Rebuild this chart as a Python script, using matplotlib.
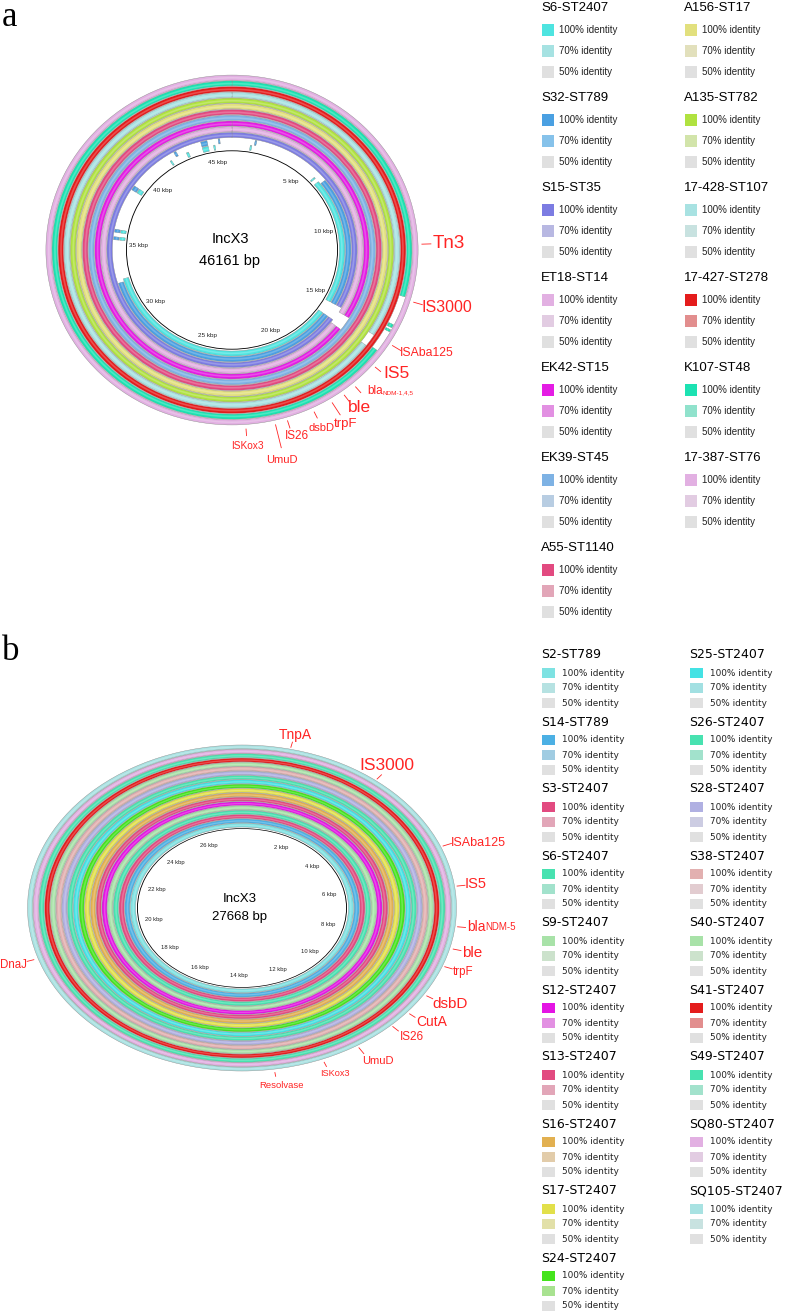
import numpy as np
import matplotlib.pyplot as plt
from matplotlib.patches import Wedge, Rectangle
from matplotlib.transforms import Affine2D
from matplotlib.colors import to_rgb

# ---------------- panel a data ----------------
len_a = 46.161  # kbp
names_a = ["S6-ST2407", "S32-ST789", "S15-ST35", "ET18-ST14", "EK42-ST15",
           "EK39-ST45", "A55-ST1140", "A156-ST17", "A135-ST782",
           "17-428-ST107", "17-427-ST278", "K107-ST48", "17-387-ST76"]
c100_a = ["#4ee4e0", "#4aa0e2", "#7c7ce2", "#e2b0e2", "#e41ce4", "#7eb2e4",
          "#e24a80", "#e2e07e", "#b0e240", "#a8e2e2", "#e41c1c", "#1ce2b2",
          "#e2b0e2"]
c70_a = ["#a6e2e2", "#86c2ea", "#b8b8e2", "#e2cce2", "#e290e2", "#b8cde2",
         "#e2a6b8", "#e2e0bc", "#d2e4aa", "#c8e2e0", "#e28e8e", "#90e2cc",
         "#e2cce2"]
# missing stretches (kbp) per ring
gaps_a = {
    "S6-ST2407": [(0, 6.4), (15.3, 16.2), (32.6, 46.161)],
    "S32-ST789": [(0, 6.6), (15.3, 16.2), (32.4, 46.161)],
    "S15-ST35": [(15.3, 16.2)],
    "ET18-ST14": [(15.6, 16.4)],
    "EK42-ST15": [(15.6, 16.4)],
    "17-428-ST107": [(15.7, 16.3)],
    "K107-ST48": [(13.6, 16.2)],
}
# short hits inside the missing stretches
marks_a = [("S6-ST2407", 35.3, 35.5), ("S6-ST2407", 35.8, 36.0),
           ("S32-ST789", 35.3, 35.5), ("S32-ST789", 35.8, 36.0),
           ("S6-ST2407", 38.8, 39.1), ("S32-ST789", 38.8, 39.1),
           ("S6-ST2407", 41.9, 42.0), ("S32-ST789", 42.4, 42.55),
           ("S6-ST2407", 43.1, 43.25), ("S32-ST789", 44.2, 44.6),
           ("S6-ST2407", 44.2, 44.6), ("S6-ST2407", 44.95, 45.05),
           ("S32-ST789", 45.3, 45.4), ("S6-ST2407", 1.2, 1.3),
           ("S32-ST789", 1.45, 1.55), ("S6-ST2407", 6.0, 6.1),
           ("K107-ST48", 14.9, 15.05), ("K107-ST48", 15.15, 15.25)]
ticks_a = [5, 10, 15, 20, 25, 30, 35, 40, 45]
genes_a = ["Tn3", "IS3000", "ISAba125", "IS5", "bla", "ble", "trpF", "dsbD",
           "IS26", "UmuD", "ISKox3"]
gene_kbp_a = [11.3, 13.72, 15.69, 16.8, 17.91, 18.46, 19.02, 19.81, 20.9,
              21.39, 22.54]

# ---------------- panel b data ----------------
len_b = 27.668
names_b = ["S2-ST789", "S14-ST789", "S3-ST2407", "S6-ST2407", "S9-ST2407",
           "S12-ST2407", "S13-ST2407", "S16-ST2407", "S17-ST2407",
           "S24-ST2407", "S25-ST2407", "S26-ST2407", "S28-ST2407",
           "S38-ST2407", "S40-ST2407", "S41-ST2407", "S49-ST2407",
           "SQ80-ST2407", "SQ105-ST2407"]
c100_b = ["#7ee2e2", "#4cb0e4", "#e24a80", "#48e2b0", "#a8e2a8", "#e414e4",
          "#e24a80", "#e2b050", "#e2e04a", "#44e41c", "#44e2e4", "#48e2b0",
          "#b0b0e2", "#e2b0b0", "#a8e2a8", "#e41c1c", "#48e2b0", "#e2b0e2",
          "#a8e2e2"]
c70_b = ["#b6e2e2", "#a0cce2", "#e2a6b8", "#a2e2cc", "#cce2cc", "#e290e2",
         "#e2a6b8", "#e2ccaa", "#e2e0a8", "#a8e290", "#a2e0e2", "#a2e2cc",
         "#cccce2", "#e2ccd0", "#cce2cc", "#e28e8e", "#a2e2cc", "#e2cce2",
         "#c8e2e0"]
ticks_b = [2, 4, 6, 8, 10, 12, 14, 16, 18, 20, 22, 24, 26]
genes_b = ["TnpA", "IS3000", "ISAba125", "IS5", "bla", "ble", "trpF", "dsbD",
           "CutA", "IS26", "UmuD", "ISKox3", "Resolvase", "DnaJ"]
gene_kbp_b = [1.0, 2.96, 5.22, 6.33, 7.42, 8.02, 8.52, 9.38, 9.97, 10.45,
              11.34, 12.14, 13.17, 19.36]

GRAY50 = "#e0e0e0"
RED = "#ff2424"
SANS = "Liberation Sans"

fig = plt.figure(figsize=(7.88, 13.12), dpi=100)
ax = fig.add_axes([0, 0, 1, 1])
ax.set_xlim(0, 788)
ax.set_ylim(1312, 0)
ax.axis("off")


def lighter(c, f):
    r, g, b = to_rgb(c)
    return (r + (1 - r) * f, g + (1 - g) * f, b + (1 - b) * f)


def arc(ctr, sy, r0, r1, k0, k1, total, color, **kw):
    tr = Affine2D().scale(1, sy).translate(*ctr) + ax.transData
    w = Wedge((0, 0), r1, k0 / total * 360 - 90, k1 / total * 360 - 90,
              width=r1 - r0, transform=tr, facecolor=color, **kw)
    ax.add_patch(w)


def polar(ctr, sy, r, k, total):
    t = np.deg2rad(k / total * 360)
    return ctr[0] + r * np.sin(t), ctr[1] - r * np.cos(t) * sy


def present(gaps, total):
    segs, start = [], 0.0
    for g0, g1 in sorted(gaps):
        if g0 > start:
            segs.append((start, g0))
        start = max(start, g1)
    if start < total:
        segs.append((start, total))
    return segs


def draw_ring(ctr, sy, r0, r1, segs, total, color):
    w = r1 - r0
    for k0, k1 in segs:
        arc(ctr, sy, r0, r1, k0, k1, total, color, edgecolor="#8c8c8c", lw=0.3)
        arc(ctr, sy, r0 + 0.3 * w, r0 + 0.62 * w, k0, k1, total,
            lighter(color, 0.22), lw=0)


def draw_map(ctr, sy, r_in, pitch, names, cols, total, gaps, marks, ticks,
             r_tick, tick_fs, title, length, title_fs):
    for i, (nm, c) in enumerate(zip(names, cols)):
        r0 = r_in + 1.5 + i * pitch
        r1 = r0 + pitch - 0.7
        draw_ring(ctr, sy, r0, r1, present(gaps.get(nm, []), total), total, c)
        for mn, k0, k1 in marks:
            if mn == nm:
                draw_ring(ctr, sy, r0, r1, [(k0, k1)], total, c)
    tr = Affine2D().scale(1, sy).translate(*ctr) + ax.transData
    ax.add_patch(Wedge((0, 0), r_in, 0, 360, width=0.9, transform=tr,
                       facecolor="black", lw=0))
    for k in ticks:
        x, y = polar(ctr, sy, r_tick, k, total)
        ax.text(x, y, f"{k} kbp", ha="center", va="center", fontsize=tick_fs,
                family=SANS, color="#222222")
    ax.text(ctr[0] - 2, ctr[1] - 11 * sy * 1.1, title, ha="center",
            va="center", fontsize=title_fs, family=SANS)
    ax.text(ctr[0] - 2, ctr[1] + 11 * sy * 1.1, f"{length} bp", ha="center",
            va="center", fontsize=title_fs, family=SANS)


def gene_labels(ctr, sy, total, genes, kbps, leads, places, sub):
    for g, k, (r1, r2), (tx, ty, fs, ha) in zip(genes, kbps, leads, places):
        x1, y1 = polar(ctr, sy, r1, k, total)
        x2, y2 = polar(ctr, sy, r2, k, total)
        ax.plot([x1, x2], [y1, y2], color=RED, lw=0.6)
        t = ax.text(tx, ty, g, ha=ha, va="center", fontsize=fs, family=SANS,
                    color=RED)
        if g == "bla":
            ax.annotate(sub[0], xy=(1, 0.12), xycoords=t, ha="left",
                        va="bottom", fontsize=sub[1], family=SANS, color=RED)


# ---------------- panel a ----------------
ctr_a, sy_a = (232, 250), 0.94
draw_map(ctr_a, sy_a, 106, 6.1, names_a, c100_a, len_a, gaps_a, marks_a,
         ticks_a, 94, 4.6, "IncX3", 46161, 10.5)

# leader radii and text placement (layout)
lead_a = [(190, 199), (190, 199), (190, 200), (190, 197), (191, 199),
          (191, 199), (191, 206), (191, 198), (190, 198), (191, 216),
          (191, 198)]
txt_a = [(449, 243, 13.5, "center"), (447, 307, 11.5, "center"),
         (427, 353, 8.8, "center"), (397, 374, 12.5, "center"),
         (367, 391, 8.5, "left"), (359, 407, 12.5, "center"),
         (346, 424, 9.5, "center"), (322, 428, 8, "center"),
         (297, 436, 8.5, "center"), (282, 460, 8, "center"),
         (247, 446, 7.3, "center")]
gene_labels(ctr_a, sy_a, len_a, genes_a, gene_kbp_a, lead_a, txt_a,
            ("NDM-1,4,5", 4.6))

# ---------------- panel b ----------------
ctr_b, sy_b = (242, 908), 0.76
draw_map(ctr_b, sy_b, 105, 5.72, names_b, c100_b, len_b, {}, [], ticks_b,
         89, 4.2, "IncX3", 27668, 9.5)

lead_b = [(217, 224), (217, 224), (217, 226), (217, 225), (217, 225),
          (218, 226), (217, 225), (218, 225), (218, 225), (217, 225),
          (218, 227), (219, 225), (219, 224), (219, 226)]
txt_b = [(295, 735, 10, "center"), (387, 766, 12.5, "center"),
         (478, 843, 9, "center"), (476, 884, 10.5, "center"),
         (467, 927, 10, "left"), (472, 953, 11, "center"),
         (463, 972, 8.3, "center"), (450, 1004, 11, "center"),
         (432, 1022, 10, "center"), (412, 1037, 8.5, "center"),
         (378, 1061, 8, "center"), (335, 1074, 6.6, "center"),
         (282, 1086, 6.8, "center"), (0, 965, 8.3, "left")]
gene_labels(ctr_b, sy_b, len_b, genes_b, gene_kbp_b, lead_b, txt_b,
            ("NDM-5", 7))


# ---------------- legends ----------------
def legend(names, c100, c70, cols_x, y0, dy, rows, per_col, sw, sh, txt_dx,
           tfs, ifs, fam):
    for i, (nm, a, b) in enumerate(zip(names, c100, c70)):
        col, row = divmod(i, per_col)
        x = cols_x[col]
        y = y0 + row * dy
        ax.text(x - 1, y, nm, ha="left", va="center", fontsize=tfs, family=fam)
        for ry, c, lab in zip(rows, [a, b, GRAY50],
                              ["100% identity", "70% identity", "50% identity"]):
            ax.add_patch(Rectangle((x, y + ry - sh / 2), sw, sh, facecolor=c,
                                   edgecolor="none"))
            ax.text(x + txt_dx, y + ry, lab, ha="left", va="center",
                    fontsize=ifs, family=fam, color="#222222")


legend(names_a, c100_a, c70_a, [542, 685], 8, 90, [22, 43, 64], 7, 12, 12,
       17, 9.5, 7, SANS)
legend(names_b, c100_b, c70_b, [542, 690], 655, 67, [18, 33, 48], 10, 13, 10,
       20, 9, 6.4, "DejaVu Sans")

# panel letters
ax.text(2, 17, "a", ha="left", va="center", fontsize=25,
        family="Liberation Serif")
ax.text(2, 652, "b", ha="left", va="center", fontsize=25,
        family="Liberation Serif")

fig.savefig("out.png", dpi=100)
